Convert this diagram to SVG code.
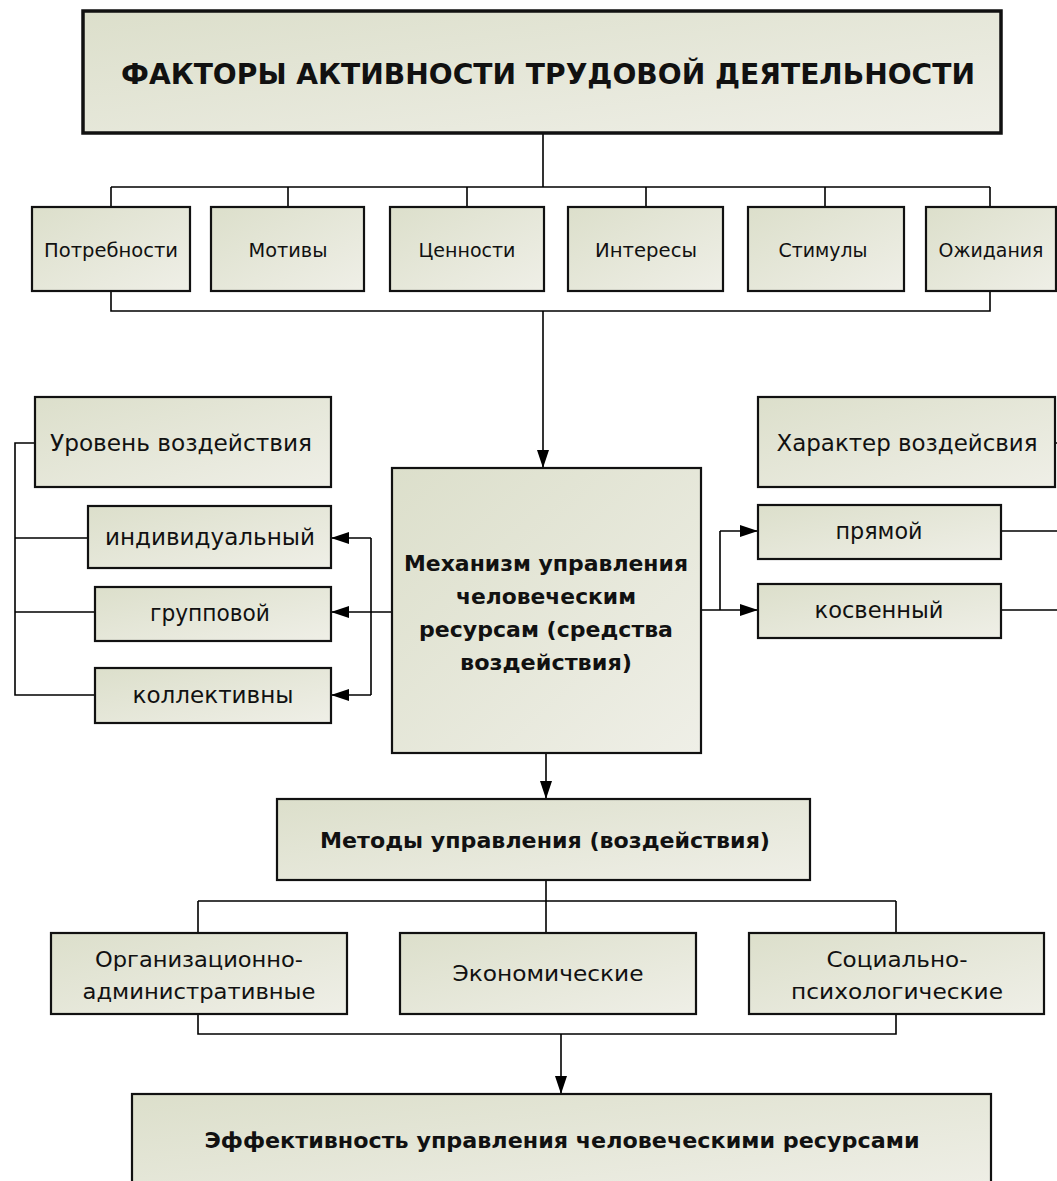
<svg xmlns="http://www.w3.org/2000/svg" width="1057" height="1181" viewBox="0 0 1057 1181">
<defs>
<linearGradient id="g" x1="0" y1="0" x2="1" y2="1">
<stop offset="0" stop-color="#dcdfcb"/>
<stop offset="1" stop-color="#efefe7"/>
</linearGradient>
<marker id="ah" viewBox="0 0 18 12" refX="18" refY="6" markerWidth="18" markerHeight="12" orient="auto" markerUnits="userSpaceOnUse">
<path d="M0,0 L18,6 L0,12 z" fill="#000"/>
</marker>
<style>
.b{fill:url(#g);stroke:#111;stroke-width:2.2}
.t{fill:url(#g);stroke:#111;stroke-width:3.5}
.c{fill:none;stroke:#000;stroke-width:1.6}
.a{fill:none;stroke:#000;stroke-width:1.6;marker-end:url(#ah)}
text{font-family:"DejaVu Sans","Verdana",sans-serif;fill:#111;text-anchor:middle}
.s{font-size:19px}
.m{font-size:23px}
.k{font-size:21px}
.bd{font-size:22px;font-weight:bold}
</style>
</defs>
<rect width="1057" height="1181" fill="#fff"/>
<g id="connectors">
<path class="c" d="M543,133 V187 M111,187 H990 M111,187 V207 M288,187 V207 M467,187 V207 M646,187 V207 M825,187 V207 M990,187 V207"/>
<path class="c" d="M111,291 V311 H990 V291"/>
<path class="a" d="M543,311 V468"/>
<path class="c" d="M35,443 H15 V695 H95 M15,538 H88 M15,612 H95"/>
<path class="c" d="M392,612 H371 M371,538 V695"/>
<path class="a" d="M371,538 H331"/>
<path class="a" d="M371,612 H331"/>
<path class="a" d="M371,695 H331"/>
<path class="c" d="M701,610 H720 M720,531 V610 M1001,531 H1057 M1001,610 H1057 M1055,443 H1057"/>
<path class="a" d="M720,531 H758"/>
<path class="a" d="M720,610 H758"/>
<path class="a" d="M546,753 V799"/>
<path class="c" d="M546,880 V901 M198,901 H896 M198,901 V933 M546,901 V933 M896,901 V933"/>
<path class="c" d="M198,1014 V1034 H896 V1014"/>
<path class="a" d="M561,1034 V1094"/>
</g>
<g id="title"><rect class="t" x="83" y="11" width="918" height="122"/><text x="548" y="84" style="font-size:29px;font-weight:bold" textLength="854" lengthAdjust="spacingAndGlyphs">ФАКТОРЫ АКТИВНОСТИ ТРУДОВОЙ ДЕЯТЕЛЬНОСТИ</text></g>
<g id="n-potr"><rect class="b" x="32" y="207" width="158" height="84"/><text class="s" x="111" y="257" textLength="134" lengthAdjust="spacingAndGlyphs">Потребности</text></g>
<g id="n-motiv"><rect class="b" x="211" y="207" width="153" height="84"/><text class="s" x="288" y="257" textLength="79" lengthAdjust="spacingAndGlyphs">Мотивы</text></g>
<g id="n-tsen"><rect class="b" x="390" y="207" width="154" height="84"/><text class="s" x="467" y="257" textLength="97" lengthAdjust="spacingAndGlyphs">Ценности</text></g>
<g id="n-inter"><rect class="b" x="568" y="207" width="155" height="84"/><text class="s" x="646" y="257" textLength="102" lengthAdjust="spacingAndGlyphs">Интересы</text></g>
<g id="n-stim"><rect class="b" x="748" y="207" width="156" height="84"/><text class="s" x="823" y="257" textLength="89" lengthAdjust="spacingAndGlyphs">Стимулы</text></g>
<g id="n-ozhid"><rect class="b" x="926" y="207" width="130" height="84"/><text class="s" x="991" y="257" textLength="105" lengthAdjust="spacingAndGlyphs">Ожидания</text></g>
<g id="n-uroven"><rect class="b" x="35" y="397" width="296" height="90"/><text class="m" x="181" y="451" textLength="262" lengthAdjust="spacingAndGlyphs">Уровень воздействия</text></g>
<g id="n-individ"><rect class="b" x="88" y="506" width="243" height="62"/><text class="m" x="210" y="545" textLength="210" lengthAdjust="spacingAndGlyphs">индивидуальный</text></g>
<g id="n-grupp"><rect class="b" x="95" y="587" width="236" height="54"/><text class="m" x="210" y="621" textLength="120" lengthAdjust="spacingAndGlyphs">групповой</text></g>
<g id="n-kollekt"><rect class="b" x="95" y="668" width="236" height="55"/><text class="m" x="213" y="703" textLength="161" lengthAdjust="spacingAndGlyphs">коллективны</text></g>
<g id="n-mech"><rect class="b" x="392" y="468" width="309" height="285"/>
<text class="bd" x="546" y="571" textLength="284" lengthAdjust="spacingAndGlyphs">Механизм управления</text>
<text class="bd" x="546" y="604" textLength="180" lengthAdjust="spacingAndGlyphs">человеческим</text>
<text class="bd" x="546" y="637" textLength="254" lengthAdjust="spacingAndGlyphs">ресурсам (средства</text>
<text class="bd" x="546" y="670" textLength="172" lengthAdjust="spacingAndGlyphs">воздействия)</text></g>
<g id="n-harakter"><rect class="b" x="758" y="397" width="297" height="90"/><text class="m" x="907" y="451" textLength="261" lengthAdjust="spacingAndGlyphs">Характер воздейсвия</text></g>
<g id="n-pryamoy"><rect class="b" x="758" y="505" width="243" height="54"/><text class="m" x="879" y="539" textLength="87" lengthAdjust="spacingAndGlyphs">прямой</text></g>
<g id="n-kosv"><rect class="b" x="758" y="584" width="243" height="54"/><text class="m" x="879" y="618" textLength="129" lengthAdjust="spacingAndGlyphs">косвенный</text></g>
<g id="n-metody"><rect class="b" x="277" y="799" width="533" height="81"/><text class="bd" x="545" y="848" textLength="450" lengthAdjust="spacingAndGlyphs">Методы управления (воздействия)</text></g>
<g id="n-org"><rect class="b" x="51" y="933" width="296" height="81"/><text class="k" x="199" y="967" textLength="208" lengthAdjust="spacingAndGlyphs">Организационно-</text><text class="k" x="199" y="999" textLength="233" lengthAdjust="spacingAndGlyphs">административные</text></g>
<g id="n-econ"><rect class="b" x="400" y="933" width="296" height="81"/><text class="k" x="548" y="981" textLength="191" lengthAdjust="spacingAndGlyphs">Экономические</text></g>
<g id="n-soc"><rect class="b" x="749" y="933" width="295" height="81"/><text class="k" x="897" y="967" textLength="141" lengthAdjust="spacingAndGlyphs">Социально-</text><text class="k" x="897" y="999" textLength="212" lengthAdjust="spacingAndGlyphs">психологические</text></g>
<g id="n-eff"><rect class="b" x="132" y="1094" width="859" height="100"/><text class="bd" x="562" y="1148" textLength="715" lengthAdjust="spacingAndGlyphs">Эффективность управления человеческими ресурсами</text></g>
</svg>
